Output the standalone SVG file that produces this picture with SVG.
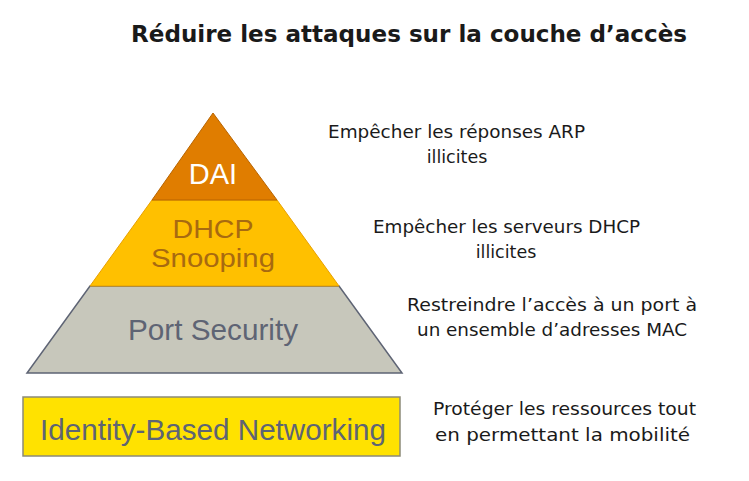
<svg xmlns="http://www.w3.org/2000/svg" width="749" height="481" viewBox="0 0 749 481">
<style>
.lbl{font-family:"DejaVu Sans","Liberation Sans",sans-serif;font-size:17.5px;fill:#1a1a1a}
.tier{font-family:"Liberation Sans",Arial,sans-serif;font-size:29px;text-anchor:middle}
.dh{font-size:26px}
</style>
<rect width="749" height="481" fill="#fff"/>
<text x="409" y="42" font-family="'DejaVu Sans','Liberation Sans',sans-serif" font-weight="bold" font-size="23" fill="#1a1a1a" text-anchor="middle" textLength="556" lengthAdjust="spacingAndGlyphs">Réduire les attaques sur la couche d’accès</text>
<g id="port-security">
<polygon points="90,286 339,286 402,373 27,373" fill="#C7C7BB" stroke="#5E6474" stroke-width="1.5"/>
<text class="tier" x="213" y="340" fill="#5E6474" textLength="170" lengthAdjust="spacingAndGlyphs">Port Security</text>
</g>
<g id="dhcp-snooping">
<polygon points="152,200 277,200 339,286 90,286" fill="#FFC000" stroke="#E8A000" stroke-width="1"/>
<text class="tier dh" x="213" y="238" fill="#A86A10" textLength="81" lengthAdjust="spacingAndGlyphs">DHCP</text>
<text class="tier dh" x="213" y="267" fill="#A86A10" textLength="124" lengthAdjust="spacingAndGlyphs">Snooping</text>
</g>
<g id="dai">
<polygon points="213,113 277,200 152,200" fill="#E07D00" stroke="#B86400" stroke-width="1"/>
<text class="tier" x="213" y="184" fill="#ffffff">DAI</text>
</g>
<g id="ibn">
<rect x="23" y="397" width="377" height="59" fill="#FFE200" stroke="#8C8A78" stroke-width="1.5"/>
<text class="tier" x="213" y="440" fill="#5E6474" textLength="346" lengthAdjust="spacingAndGlyphs">Identity-Based Networking</text>
</g>
<g id="desc-dai">
<text class="lbl" x="328" y="138" textLength="257" lengthAdjust="spacingAndGlyphs">Empêcher les réponses ARP</text>
<text class="lbl" x="457" y="163" text-anchor="middle">illicites</text>
</g>
<g id="desc-dhcp">
<text class="lbl" x="373" y="233" textLength="267" lengthAdjust="spacingAndGlyphs">Empêcher les serveurs DHCP</text>
<text class="lbl" x="506" y="258" text-anchor="middle">illicites</text>
</g>
<g id="desc-port">
<text class="lbl" x="407" y="311" textLength="290" lengthAdjust="spacingAndGlyphs">Restreindre l’accès à un port à</text>
<text class="lbl" x="417" y="336" textLength="270" lengthAdjust="spacingAndGlyphs">un ensemble d’adresses MAC</text>
</g>
<g id="desc-ibn">
<text class="lbl" x="433" y="415" textLength="263" lengthAdjust="spacingAndGlyphs">Protéger les ressources tout</text>
<text class="lbl" x="435" y="441" textLength="255" lengthAdjust="spacingAndGlyphs">en permettant la mobilité</text>
</g>
<g id="connectors"></g>
</svg>
